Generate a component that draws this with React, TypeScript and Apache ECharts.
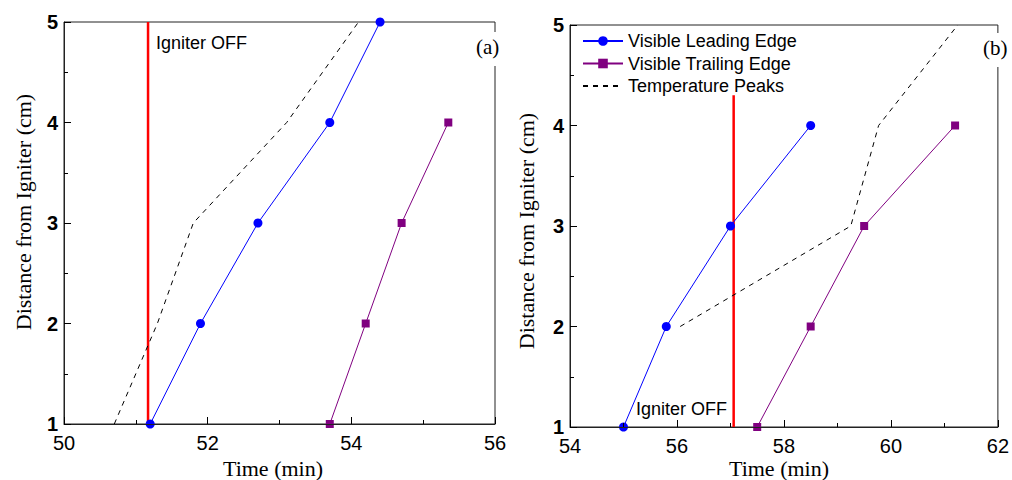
import React, { useEffect, useRef } from "react";
import * as echarts from "echarts";

// ---- data ----
const legendNames = ["Visible Leading Edge", "Visible Trailing Edge", "Temperature Peaks"];

// panel (a)
const leadA: number[][] = [[51.2, 1], [51.9, 2], [52.7, 3], [53.7, 4], [54.4, 5]];
const trailA: number[][] = [[53.7, 1], [54.2, 2], [54.7, 3], [55.35, 4]];
const peaksA: number[][] = [[50.7, 1], [51.3, 2], [51.8, 3], [53.1, 4], [54.1, 5]];
const igniterA: number[][] = [[51.17, 1], [51.17, 5]];

// panel (b)
const leadB: number[][] = [[55.0, 1], [55.8, 2], [57.0, 3], [58.5, 4]];
const trailB: number[][] = [[57.5, 1], [58.5, 2], [59.5, 3], [61.2, 4]];
const peaksB: number[][] = [[56.06, 2], [59.25, 3], [59.77, 4], [61.25, 5]];
const igniterB: number[][] = [[57.06, 1], [57.06, 4.3]];

const xRangeA = [50, 56];
const xRangeB = [54, 62];
const yRange = [1, 5];

const SANS = "Liberation Sans, Arial, sans-serif";
const SERIF = "Liberation Serif, Times New Roman, serif";

const BLUE = "#0000ff";
const PURPLE = "#800080";
const RED = "#ff0000";

function xAxisFor(gridIndex: number, range: number[]) {
  return {
    type: "value",
    gridIndex,
    min: range[0],
    max: range[1],
    interval: 2,
    axisLine: { show: true, onZero: false, lineStyle: { color: "#222", width: 1 } },
    axisTick: { show: true, inside: true, length: 7, lineStyle: { color: "#000", width: 1 } },
    minorTick: { show: true, splitNumber: 2, length: 4, lineStyle: { color: "#000", width: 1 } },
    splitLine: { show: false },
    axisLabel: { color: "#000", fontFamily: SANS, fontSize: 20, lineHeight: 18, margin: 10 },
    z: 5,
  };
}

function yAxisFor(gridIndex: number) {
  return {
    type: "value",
    gridIndex,
    min: yRange[0],
    max: yRange[1],
    interval: 1,
    axisLine: { show: true, onZero: false, lineStyle: { color: "#222", width: 1 } },
    axisTick: { show: true, inside: true, length: 7, lineStyle: { color: "#000", width: 1 } },
    minorTick: { show: true, splitNumber: 2, length: 4, lineStyle: { color: "#000", width: 1 } },
    splitLine: { show: false },
    axisLabel: { color: "#000", fontFamily: SANS, fontSize: 20, lineHeight: 16, fontWeight: "bold", margin: 6 },
    z: 5,
  };
}

function lead(data: number[][], xi: number) {
  return {
    name: legendNames[0],
    type: "line",
    xAxisIndex: xi,
    yAxisIndex: xi,
    data,
    symbol: "circle",
    symbolSize: 9,
    lineStyle: { color: BLUE, width: 1 },
    itemStyle: { color: BLUE },
    z: 4,
  };
}
function trail(data: number[][], xi: number) {
  return {
    name: legendNames[1],
    type: "line",
    xAxisIndex: xi,
    yAxisIndex: xi,
    data,
    symbol: "rect",
    symbolSize: 8,
    lineStyle: { color: PURPLE, width: 1 },
    itemStyle: { color: PURPLE },
    z: 4,
  };
}
function peaks(data: number[][], xi: number) {
  return {
    name: legendNames[2],
    type: "line",
    xAxisIndex: xi,
    yAxisIndex: xi,
    data,
    symbol: "none",
    lineStyle: { color: "#000", width: 1, type: [5, 5] },
    itemStyle: { color: "#000" },
    z: 3,
  };
}
function igniter(data: number[][], xi: number) {
  return {
    name: "Igniter OFF",
    type: "line",
    xAxisIndex: xi,
    yAxisIndex: xi,
    data,
    symbol: "none",
    lineStyle: { color: RED, width: 2.5 },
    itemStyle: { color: RED },
    z: 2,
  };
}

export default function App() {
  const ref = useRef<HTMLDivElement>(null);
  useEffect(() => {
    if (!ref.current) return;
    const chart = echarts.init(ref.current, null, { renderer: "svg" });
    chart.setOption({
      animation: false,
      backgroundColor: "#ffffff",
      grid: [
        { left: 64, top: 22, width: 431, height: 402, show: true, borderColor: "#222", borderWidth: 1, backgroundColor: "transparent" },
        { left: 570, top: 25, width: 428, height: 402, show: true, borderColor: "#222", borderWidth: 1, backgroundColor: "transparent" },
      ],
      xAxis: [xAxisFor(0, xRangeA), xAxisFor(1, xRangeB)],
      yAxis: [yAxisFor(0), yAxisFor(1)],
      legend: {
        show: true,
        orient: "vertical",
        left: 577,
        top: 27,
        itemWidth: 40,
        itemHeight: 12,
        itemGap: 4.5,
        data: [
          { name: legendNames[0] },
          { name: legendNames[1] },
          { name: legendNames[2], itemStyle: { opacity: 0 } },
        ],
        textStyle: { fontFamily: SANS, fontSize: 18, color: "#000" },
        selectedMode: false,
      },
      series: [
        igniter(igniterA, 0),
        peaks(peaksA, 0),
        lead(leadA, 0),
        trail(trailA, 0),
        igniter(igniterB, 1),
        peaks(peaksB, 1),
        lead(leadB, 1),
        trail(trailB, 1),
      ],
      graphic: [
        { type: "text", left: 156, top: 34, style: { text: "Igniter OFF", font: `18px ${SANS}`, fill: "#000" } },
        { type: "text", left: 636, top: 400, style: { text: "Igniter OFF", font: `18px ${SANS}`, fill: "#000" } },
        { type: "rect", shape: { x: 474, y: 32, width: 30, height: 34 }, style: { fill: "#fff" }, z: 10 },
        { type: "text", left: 476, top: 36, z: 11, style: { text: "(a)", font: `21px ${SERIF}`, fill: "#000" } },
        { type: "rect", shape: { x: 981, y: 33, width: 30, height: 34 }, style: { fill: "#fff" }, z: 10 },
        { type: "text", left: 983, top: 37, z: 11, style: { text: "(b)", font: `21px ${SERIF}`, fill: "#000" } },
        { type: "text", x: 273, y: 468, style: { text: "Time (min)", font: `22px ${SERIF}`, fill: "#000", align: "center", verticalAlign: "middle" } },
        { type: "text", x: 779, y: 468, style: { text: "Time (min)", font: `22px ${SERIF}`, fill: "#000", align: "center", verticalAlign: "middle" } },
        { type: "text", x: 23, y: 212, rotation: Math.PI / 2, style: { text: "Distance from Igniter (cm)", font: `22px ${SERIF}`, fill: "#000", align: "center", verticalAlign: "middle" } },
        { type: "text", x: 526, y: 231, rotation: Math.PI / 2, style: { text: "Distance from Igniter (cm)", font: `22px ${SERIF}`, fill: "#000", align: "center", verticalAlign: "middle" } },
      ],
    });
    return () => chart.dispose();
  }, []);
  return <div ref={ref} style={{ position: "absolute", left: 0, top: 0, width: 1012, height: 480 }} />;
}
